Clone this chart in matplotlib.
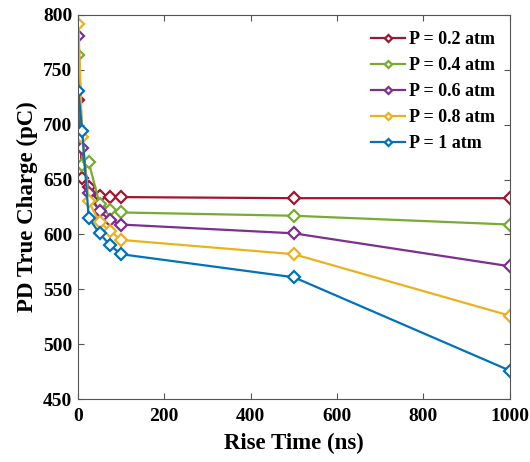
import matplotlib.pyplot as plt
import numpy as np

# rise time (ns)
rise_time = [1, 10, 25, 50, 75, 100, 500, 1000]

# PD true charge (pC) per pressure
q_02 = [722, 651, 643, 635, 634, 634, 633, 633]
q_04 = [763, 663, 666, 628, 622, 620, 617, 609]
q_06 = [781, 679, 638, 621, 613, 609, 601, 571]
q_08 = [792, 689, 630, 611, 603, 595, 582, 526]
q_10 = [731, 694, 615, 601, 590, 582, 561, 476]

labels = ['P = 0.2 atm', 'P = 0.4 atm', 'P = 0.6 atm', 'P = 0.8 atm', 'P = 1 atm']
colors = ['#A2142F', '#77AC30', '#7E2F8E', '#EDB120', '#0072BD']

plt.rcParams['font.family'] = 'Liberation Serif'
plt.rcParams['font.weight'] = 'bold'

fig = plt.figure(figsize=(5.3, 4.62), dpi=100)
ax = fig.add_axes([0.147, 0.136, 0.815, 0.832])

for q, lab, c in zip([q_02, q_04, q_06, q_08, q_10], labels, colors):
    ax.plot(rise_time, q, color=c, lw=1.6, marker='D', ms=6,
            mfc='white', mec=c, mew=1.6, label=lab)

ax.set_xlim(0, 1000)
ax.set_ylim(450, 800)
ax.set_xticks(np.arange(0, 1001, 200))
ax.set_yticks(np.arange(450, 801, 50))
ax.tick_params(direction='in', top=True, right=True, length=4,
               width=0.8, color='#555555', labelsize=14)
ax.tick_params(axis='x', pad=6)
ax.tick_params(axis='y', pad=4)
for s in ax.spines.values():
    s.set_color('#555555')
    s.set_linewidth(0.8)

ax.set_xlabel('Rise Time (ns)', fontsize=16.5, fontweight='bold', labelpad=6)
ax.set_ylabel('PD True Charge (pC)', fontsize=16.5, fontweight='bold', labelpad=4)

leg = ax.legend(loc='upper right', bbox_to_anchor=(0.995, 0.99), frameon=False,
                fontsize=13, handlelength=1.9, handletextpad=0.2,
                labelspacing=0.5, borderaxespad=0.3, markerscale=0.6)

fig.savefig('out.png', dpi=100)
